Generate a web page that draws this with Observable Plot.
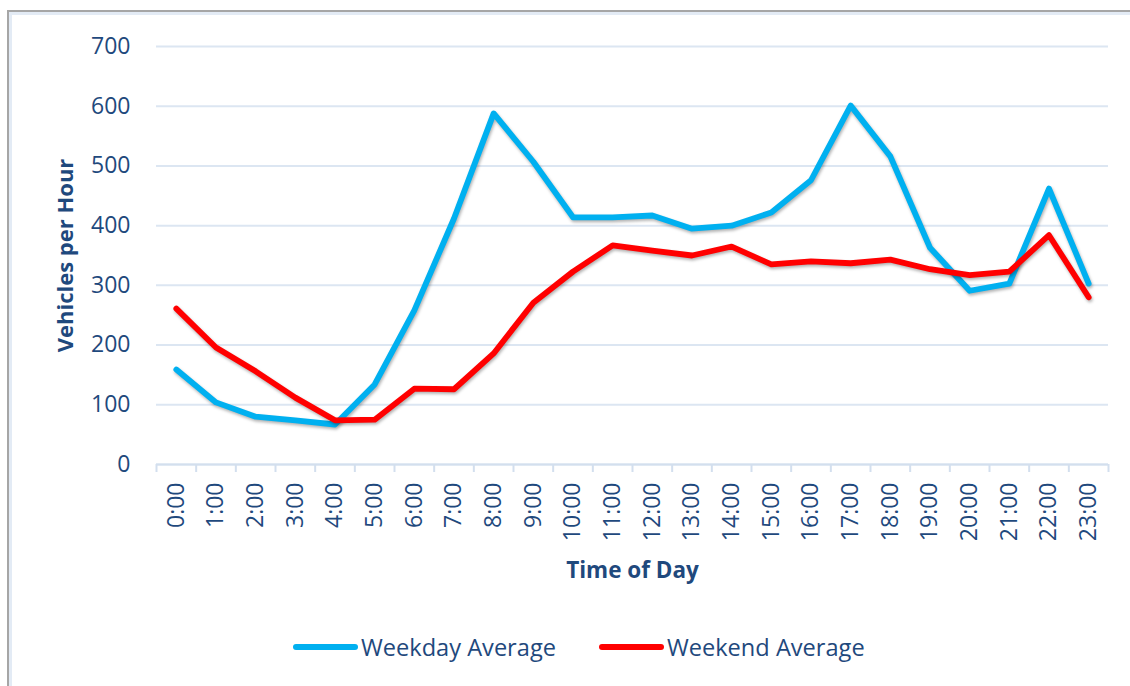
<!DOCTYPE html>
<html>
<head>
<meta charset="utf-8">
<script src="https://cdn.jsdelivr.net/npm/d3@7"></script>
<script src="https://cdn.jsdelivr.net/npm/@observablehq/plot@0.6"></script>
<style>
  html, body { margin: 0; padding: 0; background: #fff; overflow: hidden; }
  body { width: 1130px; height: 686px; position: relative; font-family: "Open Sans", sans-serif; }
  #frame { position: absolute; left: 7px; top: 10px; width: 1200px; height: 800px;
           border-left: 2px solid #A6A6A6; border-top: 2px solid #A6A6A6;
           box-shadow: inset 2px 2px 0 1px #E3EBF5; z-index: 0; }
  #chart { position: absolute; left: 0; top: 0; z-index: 1; }
  #legend { position: absolute; left: 293px; top: 631px; display: flex; align-items: center; z-index: 1;
            font-size: 23.6px; color: #1F497D; }
  .item { display: flex; align-items: center; margin-right: 43px; }
  .sw { display: inline-block; width: 65px; height: 6px; border-radius: 3px; margin-right: 3px; }
</style>
</head>
<body>
<div id="frame"></div>
<div id="chart"></div>
<div id="legend"></div>
<script>
const hours = ["0:00","1:00","2:00","3:00","4:00","5:00","6:00","7:00","8:00","9:00","10:00","11:00",
               "12:00","13:00","14:00","15:00","16:00","17:00","18:00","19:00","20:00","21:00","22:00","23:00"];
const weekday = [159, 104, 80, 74, 67, 134, 258, 412, 588, 507, 414, 414, 417, 395, 400, 422, 476, 601, 516, 363, 291, 303, 462, 303];
const weekend = [261, 196, 156, 112, 74, 75, 127, 126, 186, 271, 323, 367, 358, 350, 365, 335, 340, 337, 343, 327, 317, 323, 384, 280];
const seriesNames = ["Weekday Average", "Weekend Average"];
const seriesColors = ["#00B0F0", "#FF0000"];
const yTicks = [0, 100, 200, 300, 400, 500, 600, 700];
const textColor = "#1F497D";

const rows = hours.flatMap((h, i) => [
  {i, v: weekday[i], s: seriesNames[0]},
  {i, v: weekend[i], s: seriesNames[1]}
]);

const plot = Plot.plot({
  width: 1130,
  height: 600,
  marginTop: 46,
  marginBottom: 136,
  marginLeft: 156,
  marginRight: 22,
  style: {fontFamily: "Open Sans", fontSize: "23px", color: textColor, background: "transparent", overflow: "visible"},
  x: {domain: [-0.5, 23.5]},
  y: {domain: [0, 700]},
  color: {domain: seriesNames, range: seriesColors},
  marks: [
    Plot.gridY(yTicks, {stroke: "#DCE6F2", strokeOpacity: 1, strokeWidth: 2}),
    Plot.ruleY([0], {stroke: "#D3DFEE", strokeWidth: 2}),
    Plot.axisX(d3.range(25).map(k => k - 0.5), {tickSize: 8, tickFormat: () => "", stroke: "#D3DFEE", strokeWidth: 2, label: null}),
    Plot.axisX(d3.range(24), {tickSize: 0, tickPadding: 18, tickRotate: -90, tickFormat: k => hours[k],
                              fontSize: 23, fill: textColor, label: null}),
    Plot.axisY(yTicks, {tickSize: 0, tickPadding: 26, fontSize: 23, fill: textColor, label: null}),
    Plot.line(rows, {x: "i", y: "v", z: "s", stroke: "s", strokeWidth: 5.8, strokeLinejoin: "round", strokeLinecap: "round"}),
    Plot.text(["Vehicles per Hour"], {text: d => d, frameAnchor: "left", dx: -91, rotate: -90,
                                      textAnchor: "middle", lineAnchor: "middle", fontWeight: "bold", fontSize: 22, fill: textColor}),
    Plot.text(["Time of Day"], {text: d => d, frameAnchor: "bottom", dy: 106,
                                textAnchor: "middle", lineAnchor: "middle", fontWeight: "bold", fontSize: 22.5, fill: textColor})
  ]
});
document.getElementById("chart").appendChild(plot);
plot.querySelectorAll('g[aria-label="line"] path').forEach(p => {
  p.style.filter = "drop-shadow(1px 2px 1.5px rgba(0,0,0,0.3))";
});

const legend = document.getElementById("legend");
seriesNames.forEach((name, k) => {
  const item = document.createElement("div");
  item.className = "item";
  const sw = document.createElement("span");
  sw.className = "sw";
  sw.style.background = seriesColors[k];
  const label = document.createElement("span");
  label.textContent = name;
  item.appendChild(sw);
  item.appendChild(label);
  legend.appendChild(item);
});
</script>
</body>
</html>
